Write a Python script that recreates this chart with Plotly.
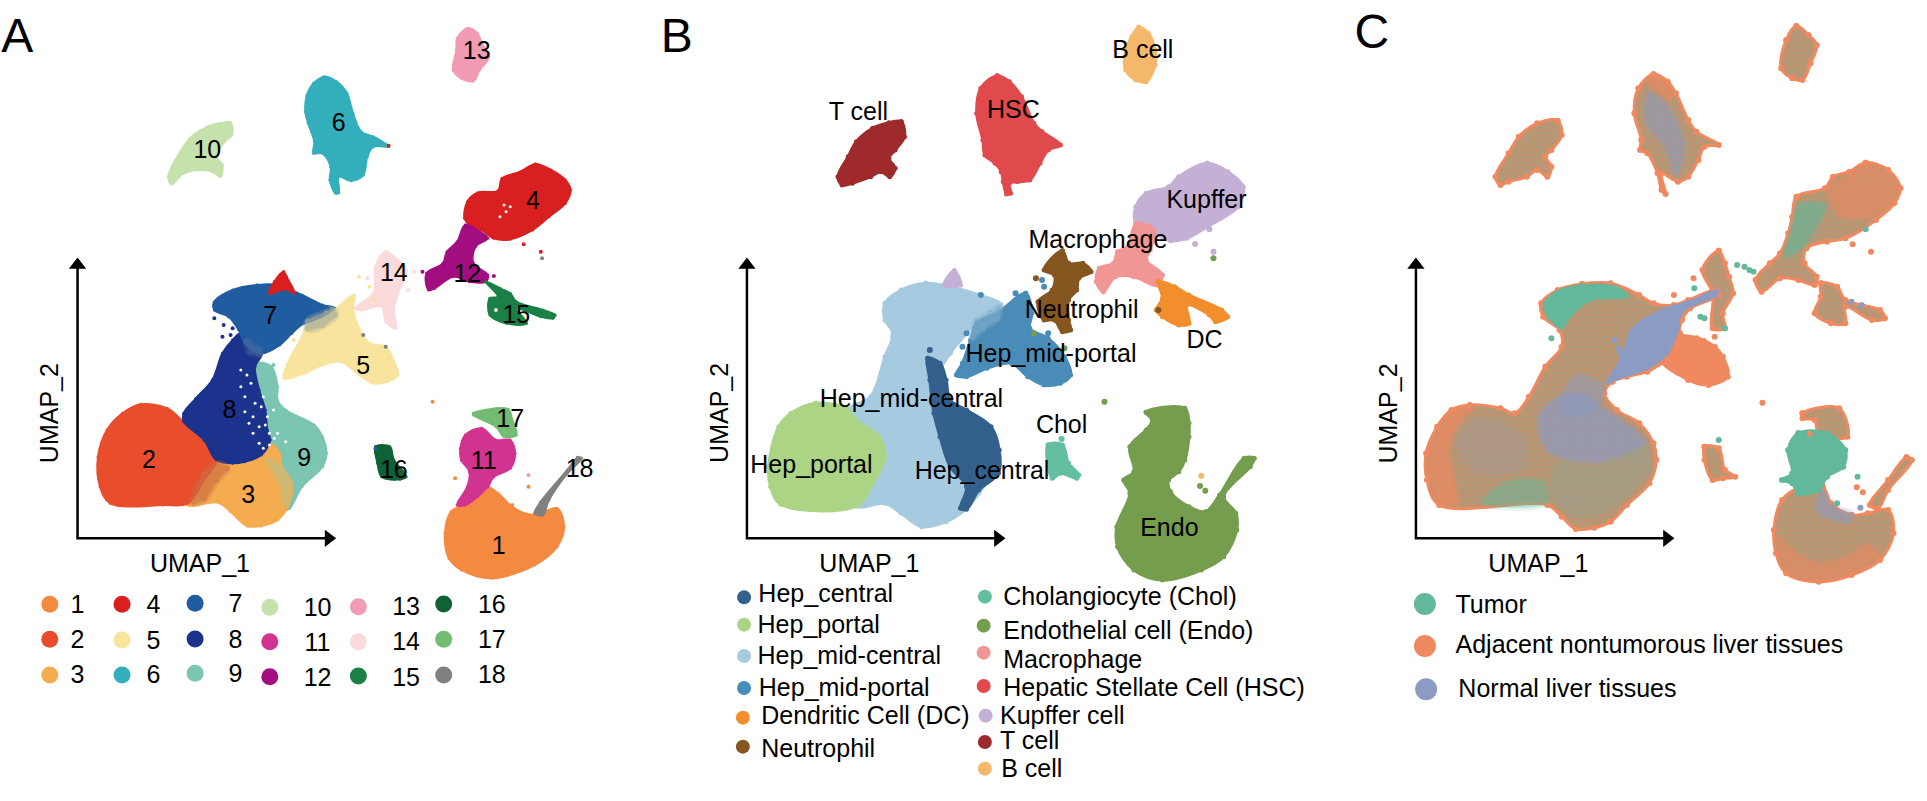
import plotly.graph_objects as go

FONT = "Liberation Sans"
# ---------- Panel A cluster outlines (UMAP scale units) ----------
A10 = [(565,368),(568,405),(550,425),(530,470),(545,495),(540,530),(520,515),(490,510),(450,520),(420,552),(412,530),(430,480),(465,415),(505,382),(540,370)]
A6 = [(795,230),(825,245),(850,280),(865,340),(885,395),(915,410),(945,432),(952,440),(915,440),(900,470),(890,525),(860,542),(830,530),(830,578),(822,580),(808,540),(810,500),(790,460),(768,460),(770,425),(755,370),(748,335),(752,285),(768,250)]
A13 = [(1145,85),(1170,100),(1180,130),(1198,170),(1175,210),(1160,243),(1130,235),(1110,210),(1118,150),(1120,115)]
A4 = [(1312,492),(1350,510),(1385,540),(1398,570),(1385,610),(1345,650),(1305,690),(1250,718),(1210,715),(1180,690),(1150,675),(1138,655),(1145,605),(1170,578),(1220,572),(1230,535),(1275,515)]
A4b = [(695,815),(702,830),(722,880),(700,868),(660,880),(672,845)]
A12 = [(1140,675),(1175,695),(1195,715),(1165,740),(1160,790),(1195,825),(1190,845),(1150,845),(1110,830),(1065,865),(1050,870),(1045,820),(1085,790),(1095,755),(1120,725)]
A15 = [(1190,845),(1225,865),(1250,880),(1265,905),(1330,930),(1360,945),(1355,955),(1325,950),(1265,925),(1290,970),(1240,970),(1200,945),(1200,895),(1220,890)]
A14 = [(945,755),(970,775),(995,810),(975,880),(965,930),(970,985),(945,965),(935,920),(885,930),(870,925),(915,880),(920,800)]
A5 = [(868,885),(865,925),(880,985),(905,1030),(945,1040),(960,1070),(975,1125),(950,1145),(915,1150),(880,1125),(835,1085),(790,1095),(745,1120),(695,1135),(705,1090),(740,1010),(750,980),(800,950)]
A7 = [(630,855),(680,855),(740,885),(790,915),(820,925),(800,955),(745,970),(715,1000),(685,1035),(640,1060),(600,1030),(585,990),(560,950),(525,930),(525,905),(570,870)]
A8 = [(590,1000),(620,1040),(640,1065),(625,1100),(635,1170),(650,1230),(655,1290),(662,1320),(640,1365),(600,1385),(570,1390),(530,1380),(500,1320),(450,1265),(450,1240),(480,1195),(520,1140),(545,1060),(570,1020)]
A9 = [(630,1090),(665,1100),(680,1160),(680,1200),(700,1230),(770,1275),(790,1310),(800,1360),(790,1400),(740,1460),(710,1525),(700,1530),(715,1450),(690,1400),(660,1370),(665,1320),(650,1290),(640,1200)]
A2 = [(345,1213),(410,1225),(450,1265),(480,1290),(530,1380),(500,1440),(460,1510),(400,1515),(270,1510),(245,1460),(240,1370),(262,1290),(300,1240)]
A3 = [(530,1380),(570,1390),(640,1365),(660,1330),(685,1360),(690,1400),(715,1450),(705,1520),(680,1560),(640,1578),(605,1578),(565,1535),(535,1508),(460,1515),(490,1440)]
A16 = [(920,1340),(955,1340),(965,1380),(995,1430),(980,1438),(935,1430),(925,1390)]
A17 = [(1160,1240),(1245,1228),(1255,1260),(1265,1305),(1235,1310),(1215,1280),(1160,1245)]
A11 = [(1180,1285),(1215,1320),(1250,1320),(1262,1360),(1250,1405),(1210,1430),(1195,1460),(1170,1490),(1140,1515),(1120,1515),(1145,1460),(1150,1415),(1130,1380),(1128,1345),(1140,1305)]
A1 = [(1185,1455),(1220,1480),(1260,1525),(1310,1545),(1365,1525),(1382,1580),(1365,1640),(1310,1695),(1205,1735),(1130,1710),(1100,1675),(1090,1600),(1105,1535),(1125,1520),(1165,1490)]
A18 = [(1415,1372),(1425,1375),(1390,1420),(1345,1500),(1330,1545),(1310,1540),(1325,1505),(1390,1410)]
A_blend_57 = [(755,965),(800,940),(815,930),(820,945),(790,975),(755,985)]
A_blend_23 = [(500,1425),(530,1395),(555,1405),(530,1440),(500,1495),(475,1505)]
A_blend_39 = [(660,1385),(690,1405),(708,1450),(700,1510),(690,1450)]
A_blend_78 = [(605,1025),(635,1050),(635,1062),(612,1055)]

A_order = [("9",A9),("3",A3),("2",A2),("8",A8),("7",A7),("4",A4b),("5",A5),("14",A14),("10",A10),("6",A6),("13",A13),("4",A4),("12",A12),("15",A15),("16",A16),("17",A17),("1",A1),("11",A11),("18",A18)]

cluster_names = [str(i) for i in range(1,19)]
cluster_colors = ["#F48A40","#E84E2C","#F5AC4E","#D91F1F","#F8E49C","#33AEBB","#1F5CA0","#1B338C","#7BC5B2","#C5E1AC","#D13391","#A20D80","#F19BB4","#FADADA","#1A8045","#0F6235","#74BB74","#808080"]

A_stray_x = [525,548,570,545,565,1325,1283,1328,1035,1210,1060,1335,900,1015,945,890,952,920,670,720,1115,1295,1295,1255,905,915,1000,880,1250,1215]
A_stray_y = [955,975,985,1010,1005,755,733,775,815,828,1205,1495,835,815,1040,1005,437,1345,1095,1020,1435,1425,1460,1515,860,900,870,830,890,930]
A_stray_c = ["8","8","8","8","8","4","4","18","12","12","1","18","14","14","18","18","4","7","9","5","1","13","1","1","5","5","14","5","15","14"]
A_white_x = [600,620,640,610,590,605,660,1240,1225,1250,672,655,625,600,635,645,590,615,650,670,680,660,645,1235,620,635,700]
A_white_y = [1235,1250,1220,1270,1110,1125,1300,635,650,620,1315,1250,1210,1190,1280,1190,1160,1150,1275,1230,1300,1335,1345,615,1300,1330,1325]

A_label_x = [1222,365,608,1306,890,830,662,562,745,508,1185,1145,1168,965,1265,965,1250,1420]
A_label_y = [1638,1380,1485,603,1097,368,948,1230,1372,448,1382,822,153,817,945,1410,1255,1405]

A_leg_mx = [122,122,122,299,299,299,478,478,478,661,661,661,878,878,878,1087,1087,1087]
A_leg_my = [1813,1918,2025,1813,1920,2025,1810,1917,2020,1822,1925,2030,1820,1925,2028,1812,1918,2025]
A_leg_tx = [190,190,190,376,376,376,577,577,577,778,778,778,995,995,995,1205,1205,1205]
A_leg_ty = [1815,1920,2025,1815,1922,2025,1812,1918,2022,1823,1927,2032,1820,1925,2032,1815,1920,2025]

# ---------- Panel B ----------
B_T = [(640,365),(648,410),(625,450),(610,475),(625,505),(612,530),(590,515),(565,530),(520,550),(495,555),(485,530),(510,470),(530,425),(570,385),(610,368)]
B_HSC = [(875,227),(905,245),(935,290),(965,370),(985,395),(1030,435),(1000,450),(980,490),(955,540),(925,545),(905,550),(908,580),(898,582),(890,545),(885,515),(870,490),(845,465),(840,420),(825,340),(835,265)]
B_B = [(1222,82),(1245,100),(1262,150),(1262,195),(1240,245),(1215,240),(1190,210),(1190,150),(1205,110)]
B_Kup = [(1390,490),(1440,515),(1478,560),(1465,620),(1390,680),(1340,715),(1300,722),(1260,700),(1215,670),(1215,620),(1240,580),(1295,560),(1320,530)]
B_Kup2 = [(770,812),(785,855),(745,855)]
B_Mac = [(1215,672),(1260,690),(1250,750),(1240,780),(1280,825),(1265,855),(1210,830),(1165,830),(1135,875),(1118,845),(1125,805),(1160,790),(1170,755),(1195,740)]
B_Neu = [(1035,752),(1050,790),(1085,790),(1105,815),(1075,835),(1070,870),(1050,900),(1050,960),(1055,990),(1035,995),(1015,960),(990,960),(975,905),(1010,870),(1015,825),(990,810)]
B_DC = [(1270,845),(1310,860),(1345,885),(1425,930),(1440,950),(1410,965),(1395,945),(1340,915),(1345,970),(1320,975),(1280,950),(1265,930),(1280,895)]
B_MP = [(945,880),(960,940),(955,985),(1000,1015),(1040,1070),(1055,1125),(1030,1150),(990,1155),(950,1130),(910,1090),(850,1105),(800,1130),(775,1125),(790,1090),(810,1020),(825,970),(880,935)]
B_MC = [(700,850),(760,860),(830,885),(885,915),(825,965),(800,1000),(760,1060),(730,1130),(750,1230),(880,1370),(830,1480),(800,1525),(750,1565),(690,1580),(640,1540),(600,1510),(530,1518),(530,1400),(510,1230),(565,1190),(600,1070),(620,1000),(600,960),(600,910),(640,870)]
B_HC = [(705,1075),(735,1090),(750,1140),(760,1200),(800,1230),(860,1280),(880,1350),(878,1420),(830,1470),(800,1528),(785,1525),(800,1460),(760,1400),(735,1310),(720,1240),(710,1140)]
B_HP = [(430,1210),(505,1225),(530,1260),(585,1310),(600,1370),(570,1450),(530,1518),(345,1513),(320,1460),(315,1400),(340,1280),(370,1240)]
B_Chol = [(1000,1335),(1035,1335),(1050,1390),(1075,1425),(1070,1435),(1030,1420),(1010,1435),(1000,1400)]
B_Endo = [(1240,1237),(1335,1225),(1345,1270),(1345,1310),(1335,1380),(1320,1415),(1295,1440),(1300,1475),(1345,1520),(1385,1535),(1420,1485),(1480,1375),(1505,1375),(1495,1400),(1430,1490),(1460,1540),(1462,1590),(1430,1670),(1375,1710),(1280,1740),(1210,1710),(1170,1640),(1168,1580),(1200,1480),(1185,1440),(1210,1415),(1200,1340),(1240,1290),(1255,1260)]

B_names = ["Hep_central","Hep_portal","Hep_mid-central","Hep_mid-portal","Dendritic Cell (DC)","Neutrophil","Cholangiocyte (Chol)","Endothelial cell (Endo)","Macrophage","Hepatic Stellate Cell (HSC)","Kupffer cell","T cell","B cell"]
B_colors = ["#33608C","#ABD484","#A6CBE0","#4A8CB8","#F28E2B","#85561F","#64BFA2","#749E4E","#F09695","#E04A4C","#C5B0D5","#9E2A2B","#F5B86B"]
B_order = [(2,B_MC),(10,B_Kup2),(3,B_MP),(0,B_HC),(1,B_HP),(11,B_T),(9,B_HSC),(12,B_B),(10,B_Kup),(8,B_Mac),(5,B_Neu),(4,B_DC),(6,B_Chol),(7,B_Endo)]
B_soft_MC = [(825,965),(860,940),(880,925),(875,955),(840,985),(815,1010)]

B_stray_x = [1033,1138,1375,1372,1385,920,985,965,1000,1040,1405,1405,1360,1395,1270,835,970,990,1095,1040,800,790,620,650,710]
B_stray_y = [1317,1205,1427,1458,1472,880,840,1000,1000,1045,755,775,732,688,930,885,835,860,810,860,1000,1040,1010,955,1050]
B_stray_c = [6,7,12,7,7,3,3,7,3,7,10,7,10,10,5,3,5,3,5,5,3,3,2,2,0]

B_label_txt = ["B cell","HSC","T cell","Kupffer","Macrophage","Neutrophil","DC","Hep_mid-portal","Hep_mid-central","Chol","Hep_portal","Hep_central","Endo"]
B_label_x = [1232,915,535,1388,1122,1082,1383,1007,665,1033,420,838,1297]
B_label_y = [150,328,335,598,718,928,1020,1062,1195,1275,1395,1412,1583]

B_leg_mx = [255,255,255,255,252,252,845,842,842,842,847,845,845]
B_leg_my = [1792,1874,1968,2064,2153,2240,1790,1877,1958,2058,2147,2226,2306]
B_leg_tx = [290,288,288,291,297,297,890,890,890,890,882,882,885]
B_leg_ty = [1780,1875,1968,2062,2148,2245,1790,1893,1978,2062,2147,2222,2305]

# ---------- Panel C ----------
C_10 = [(680,362),(690,405),(665,450),(650,470),(665,500),(655,530),(630,510),(605,530),(560,545),(540,555),(528,530),(560,460),(585,410),(630,370)]
C_6 = [(915,223),(950,245),(970,280),(1000,360),(1020,395),(1075,435),(1040,440),(1025,480),(1000,530),(975,545),(935,520),(945,582),(935,570),(925,520),(900,460),(882,450),(885,420),(868,340),(878,265)]
C_13 = [(1265,78),(1295,105),(1315,135),(1300,190),(1280,240),(1255,235),(1228,205),(1240,120)]
C_4 = [(1435,488),(1490,510),(1520,565),(1505,610),(1460,660),(1385,715),(1340,725),(1290,745),(1285,790),(1315,830),(1310,855),(1270,840),(1225,835),(1180,875),(1165,840),(1200,790),(1225,760),(1245,700),(1255,650),(1265,590),(1335,565),(1355,530),(1395,515)]
C_15 = [(1325,850),(1365,860),(1385,900),(1470,930),(1482,955),(1450,960),(1385,920),(1385,970),(1350,970),(1310,940),(1325,890)]
C_14 = [(1075,752),(1090,790),(1100,830),(1110,880),(1085,940),(1090,985),(1060,985),(1060,880),(1035,810)]
C_main = [(740,852),(810,850),(880,885),(915,910),(965,915),(1000,900),(1070,870),(1075,885),(1005,925),(985,960),(980,1000),(1020,1015),(1065,1040),(1085,1070),(1097,1130),(1050,1155),(1000,1140),(945,1090),(900,1115),(850,1130),(815,1145),(795,1180),(825,1230),(880,1270),(915,1330),(922,1380),(905,1450),(850,1515),(810,1565),(770,1583),(725,1587),(690,1550),(655,1515),(390,1515),(360,1440),(358,1360),(385,1280),(420,1230),(465,1215),(540,1225),(575,1240),(610,1190),(650,1100),(690,1040),(685,990),(645,950),(640,910),(680,870)]
C_1 = [(1330,1460),(1350,1510),(1400,1545),(1440,1540),(1490,1530),(1503,1600),(1470,1680),(1400,1725),(1320,1745),(1240,1720),(1215,1660),(1210,1590),(1230,1500),(1280,1460)]
C_11 = [(1270,1300),(1340,1300),(1385,1350),(1380,1400),(1340,1430),(1320,1470),(1270,1480),(1255,1450),(1230,1440),(1255,1420),(1245,1350)]
C_17 = [(1280,1240),(1370,1225),(1390,1310),(1320,1300),(1310,1260),(1280,1255)]
C_18 = [(1535,1372),(1548,1380),(1490,1470),(1465,1525),(1445,1515),(1490,1440)]
C_16 = [(1040,1340),(1075,1345),(1090,1410),(1115,1430),(1085,1435),(1060,1440),(1040,1380)]

C_orange = "#F0895F"; C_green = "#62B89A"; C_purple = "#8C9BC3"; C_blend = "#C0936F"; C_olive = "#9DA08A"

C_base = [C_10,C_6,C_13,C_4,C_15,C_14,C_main,C_1,C_17,C_18,C_16]

P_orange5 = [(975,1010),(1040,1020),(1085,1070),(1097,1130),(1050,1155),(1000,1140),(930,1075)]
P_purple_band = [(1070,872),(1000,905),(945,925),(860,990),(845,1050),(820,1110),(800,1150),(830,1135),(900,1105),(950,1060),(975,990),(985,935),(1070,885)]
P_green_top = [(740,856),(825,862),(850,890),(760,900),(710,950),(690,985),(655,945),(648,910),(680,874)]
P_purple_mid = [(640,1250),(680,1200),(740,1190),(800,1240),(860,1290),(890,1330),(780,1380),(660,1350)]
P_olive_low = [(680,1400),(780,1400),(890,1350),(905,1400),(850,1480),(790,1530),(720,1540),(670,1480)]
P_orange_left = [(465,1225),(425,1238),(392,1285),(368,1360),(370,1430),(395,1505),(430,1505),(420,1430),(410,1340),(440,1260)]
P_purple_left = [(470,1270),(540,1270),(590,1320),(600,1390),(540,1420),(470,1400),(440,1330)]
P_green_bot = [(500,1505),(650,1505),(640,1450),(560,1450)]
P_orange_6 = [(915,230),(945,250),(955,290),(905,245)]
P_purple_6 = [(905,285),(945,320),(985,430),(970,515),(950,450),(900,360)]
P_orange_1 = [(1222,1620),(1248,1710),(1320,1737),(1400,1718),(1465,1672),(1440,1640),(1380,1680),(1300,1690),(1250,1650)]
P_green_4 = [(1255,700),(1275,620),(1330,620),(1300,700),(1280,735),(1240,765)]
P_orange_4 = [(1435,495),(1505,545),(1500,605),(1440,650),(1370,640),(1350,565),(1400,525)]
P_purple_8 = [(730,1130),(790,1170),(760,1230),(700,1240),(690,1200)]
P_purple_1 = [(1330,1480),(1350,1520),(1400,1545),(1390,1560),(1320,1530)]
C_soft = [(P_purple_mid,C_purple,0.8),(P_olive_low,C_olive,0.7),(P_orange_left,C_orange,0.8),(P_purple_left,"#A89A90",0.6),(P_green_bot,C_green,0.5),(P_orange_6,C_orange,0.7),(P_purple_6,C_purple,0.6),(P_orange_1,C_orange,0.6),(P_green_4,C_green,0.7),(P_orange_4,C_orange,0.6),(P_purple_8,C_purple,0.5),(P_purple_1,C_purple,0.6)]
C_solid = [(P_orange5,C_orange),(P_green_top,C_green),(P_purple_band,C_purple)]

C_stray_x = [1120,1138,1150,1160,1013,1015,1040,1030,1090,1065,965,1075,1182,1415,1413,1428,1422,1448,1403,1435,1365,665,680,663,830,835,820,1425,1400,1298]
C_stray_y = [795,800,810,815,835,865,955,950,985,1010,885,1320,1208,1430,1462,1477,1523,755,733,688,1510,1015,970,955,1045,1060,1020,915,905,1302]
C_stray_c = [C_green]*4+[C_orange,C_green,C_green,C_green,C_green,C_orange,C_orange,C_green,C_orange,C_green,C_orange,C_orange,C_purple,C_orange,C_orange,C_green,C_green,C_green,C_green,C_green,C_purple,C_purple,C_purple,C_purple,C_purple,C_orange]

C_leg_names = ["Tumor","Adjacent nontumorous liver tissues","Normal liver tissues"]
C_leg_colors = [C_green,C_orange,C_purple]
C_leg_mx = [355,355,358]
C_leg_my = [1812,1938,2068]
C_leg_tx = [430,430,437]
C_leg_ty = [1815,1935,2065]

# ---------- Axis arrows ----------
arrow_A_x = [190,190,805]; arrow_B_x = [262,262,877]; arrow_C_x = [333,333,948]
arrow_y = [795,1615,1615]
panel_letter = ["A","B","C"]
letter_x = [42,90,225]; letter_y = [115,115,103]
umap1_x = [490,562,633]; umap1_y = 1690
umap2_x = [122,195,265]; umap2_y = 1240
text_nudge = 6

fig = go.Figure()
def ax(n): return ("x" if n==1 else f"x{n}", "y" if n==1 else f"y{n}")

def poly(n, pts, color, lw, ms, op=1.0, pattern=None, smooth=1.0):
    xa,ya = ax(n)
    xs = [p[0] for p in pts]+[pts[0][0]]
    ys = [p[1] for p in pts]+[pts[0][1]]
    kw = dict(fillpattern=pattern) if pattern else {}
    fig.add_trace(go.Scatter(x=xs,y=ys,xaxis=xa,yaxis=ya,mode="lines+markers",fill="toself",fillcolor=color,opacity=op,
        line=dict(color=color,width=lw,shape="spline",smoothing=smooth),marker=dict(color=color,size=ms),hoverinfo="skip",showlegend=False,**kw))

def soft(n, pts, color, op):
    # feathered patch: same outline drawn with shrinking line widths
    for w,f in ((9,0.3),(4,0.45)):
        poly(n,pts,color,w,0,op*f)
    poly(n,pts,color,1,0,op*0.45)

def dots(n,xs,ys,cols,size):
    xa,ya = ax(n)
    fig.add_trace(go.Scatter(x=xs,y=ys,xaxis=xa,yaxis=ya,mode="markers",marker=dict(color=cols,size=size),hoverinfo="skip",showlegend=False,cliponaxis=False))

def texts(n,xs,ys,txt,size,pos="middle center"):
    xa,ya = ax(n)
    fig.add_trace(go.Scatter(x=xs,y=[v+text_nudge for v in ys],xaxis=xa,yaxis=ya,mode="text",text=txt,textposition=pos,cliponaxis=False,
        textfont=dict(family=FONT,size=size,color="black"),hoverinfo="skip",showlegend=False))

# Panel A
cmap = dict(zip(cluster_names,cluster_colors))
for name,pts in A_order:
    poly(1,pts,cmap[name],2,3)
soft(1,A_blend_57,"#A9B09A",0.9)
soft(1,A_blend_23,"#CC6F45",0.8)
soft(1,A_blend_39,"#B9C08A",0.7)
soft(1,A_blend_78,"#4C6EA0",0.6)
dots(1,A_stray_x,A_stray_y,[cmap[c] for c in A_stray_c],4)
dots(1,A_white_x,A_white_y,"white",3)
texts(1,A_label_x,A_label_y,cluster_names,25)
dots(1,A_leg_mx,A_leg_my,cluster_colors,17)
texts(1,A_leg_tx,A_leg_ty,cluster_names,25)

# Panel B
for i,pts in B_order:
    poly(2,pts,B_colors[i],3,5)
soft(2,B_soft_MC,"#7FAFCB",0.8)
dots(2,B_stray_x,B_stray_y,[B_colors[c] for c in B_stray_c],6)
texts(2,B_label_x,B_label_y,B_label_txt,25)
dots(2,B_leg_mx,B_leg_my,B_colors,14)
texts(2,B_leg_tx,B_leg_ty,B_names,25,"middle right")

# Panel C
mottle = dict(shape=".",size=5,solidity=0.35,fgcolor="#8FA68E",bgcolor=C_blend)
for pts in C_base:
    poly(3,pts,C_orange,3,6,pattern=mottle)
poly(3,C_11,C_green,3,6)
for pts,c,o in C_soft:
    soft(3,pts,c,o)
for pts,c in C_solid:
    poly(3,pts,c,2,4)
dots(3,C_stray_x,C_stray_y,C_stray_c,6)
dots(3,C_leg_mx,C_leg_my,C_leg_colors,22)
texts(3,C_leg_tx,C_leg_ty,C_leg_names,25,"middle right")

# Axis arrows, titles, panel letters
for n,axx in zip((1,2,3),(arrow_A_x,arrow_B_x,arrow_C_x)):
    xa,ya = ax(n)
    fig.add_trace(go.Scatter(x=axx,y=arrow_y,xaxis=xa,yaxis=ya,mode="lines",line=dict(color="black",width=2.5),hoverinfo="skip",showlegend=False))
    fig.add_trace(go.Scatter(x=[axx[0]],y=[arrow_y[0]],xaxis=xa,yaxis=ya,mode="markers",marker=dict(symbol="triangle-up",size=15,color="black"),hoverinfo="skip",showlegend=False))
    fig.add_trace(go.Scatter(x=[axx[2]],y=[arrow_y[2]],xaxis=xa,yaxis=ya,mode="markers",marker=dict(symbol="triangle-right",size=15,color="black"),hoverinfo="skip",showlegend=False))
    texts(n,[umap1_x[n-1]],[umap1_y],["UMAP_1"],25)
    texts(n,[letter_x[n-1]],[letter_y[n-1]],[panel_letter[n-1]],48)

annotations = [dict(text="UMAP_2",x=umap2_x[i],y=umap2_y,xref=ax(i+1)[0],yref=ax(i+1)[1],showarrow=False,textangle=-90,
                    font=dict(family=FONT,size=25,color="black")) for i in range(3)]

W,H = 1927,801
layout = dict(width=W,height=H,margin=dict(l=0,r=0,t=0,b=0),paper_bgcolor="white",plot_bgcolor="white",showlegend=False,annotations=annotations)
for i,(a,b) in enumerate([(0,640),(640,1280),(1280,1920)]):
    s = "" if i==0 else str(i+1)
    layout["xaxis"+s] = dict(domain=[a/W,b/W],range=[0,1568],visible=False,fixedrange=True,anchor="y"+s)
    layout["yaxis"+s] = dict(domain=[0,1],range=[2403,0],visible=False,fixedrange=True,anchor="x"+s)
fig.update_layout(**layout)
fig.write_html("out.html",config=dict(displayModeBar=False),post_script="document.body.style.margin='0';")
